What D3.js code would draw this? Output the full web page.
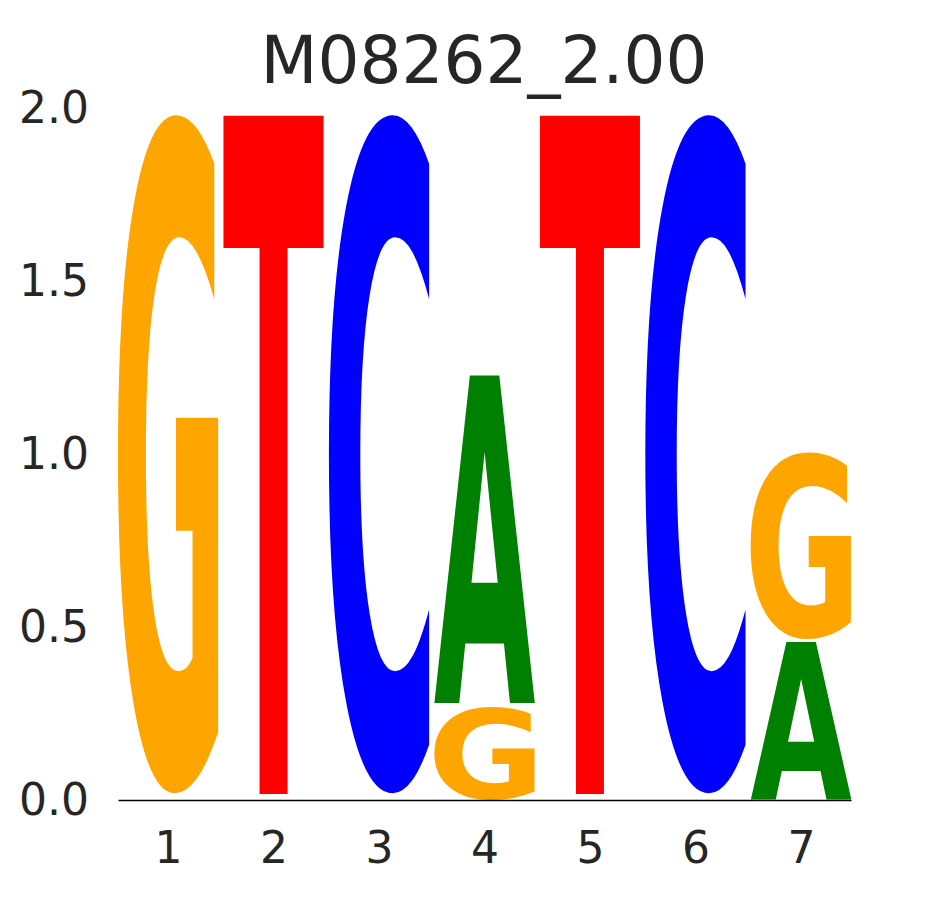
<!DOCTYPE html>
<html>
<head>
<meta charset="utf-8">
<script src="https://cdn.jsdelivr.net/npm/d3@7"></script>
<style>
  body { margin: 0; background: #fff; }
  svg text { font-family: "DejaVu Sans", sans-serif; }
</style>
</head>
<body>
<svg id="chart" width="945" height="900"></svg>
<script>
// motif data: letters per position, stacked bottom to top
var title = "M08262_2.00";
var positions = [1, 2, 3, 4, 5, 6, 7];
var stackLetters = [
  ["A", "C", "T", "G"],
  ["A", "C", "G", "T"],
  ["A", "G", "T", "C"],
  ["G", "C", "T", "A"],
  ["A", "C", "G", "T"],
  ["A", "G", "T", "C"],
  ["A", "C", "T", "G"]
];
var stackHeights = [
  [0.006, 0.005, 0.006, 1.963],
  [0.006, 0.005, 0.006, 1.963],
  [0.006, 0.005, 0.006, 1.963],
  [0.269, 0.005, 0.006, 0.948],
  [0.006, 0.005, 0.006, 1.963],
  [0.006, 0.005, 0.006, 1.963],
  [0.455, 0.004, 0.004, 0.537]
];
var yTicks = [0, 0.5, 1.0, 1.5, 2.0];
var colors = { A: "#008000", C: "#0000ff", G: "#ffa500", T: "#ff0000" };

var svg = d3.select("#chart");
var plotLeft = 118, plotRight = 851, plotTop = 108, plotBottom = 800;
var letterWidth = 0.95;

var x = d3.scaleLinear().domain([1 - letterWidth / 2, 7 + letterWidth / 2]).range([plotLeft, plotRight]);
var y = d3.scaleLinear().domain([0, 2]).range([plotBottom, plotTop]);

// glyph ink bounds: draw each letter on a canvas and scan the pixels
var FS = 400, CW = 600, CH = 600, OX = 100, OY = 500;
var cnv = document.createElement("canvas");
cnv.width = CW; cnv.height = CH;
var ctx = cnv.getContext("2d");
var ink = {};
["A", "C", "G", "T"].forEach(function(c) {
  ctx.clearRect(0, 0, CW, CH);
  ctx.font = "bold " + FS + "px 'DejaVu Sans'";
  ctx.fillStyle = "#000";
  ctx.fillText(c, OX, OY);
  var px = ctx.getImageData(0, 0, CW, CH).data;
  var x0 = CW, x1 = -1, y0 = CH, y1 = -1;
  for (var yy = 0; yy < CH; yy++) {
    for (var xx = 0; xx < CW; xx++) {
      if (px[(yy * CW + xx) * 4 + 3] > 127) {
        if (xx < x0) x0 = xx;
        if (xx > x1) x1 = xx;
        if (yy < y0) y0 = yy;
        if (yy > y1) y1 = yy;
      }
    }
  }
  ink[c] = { l: OX - x0, r: x1 + 1 - OX, a: OY - y0, d: y1 + 1 - OY };
});

var glyphs = [];
positions.forEach(function(p, i) {
  var base = 0;
  stackLetters[i].forEach(function(c, j) {
    var h = stackHeights[i][j];
    if (h > 0.012) glyphs.push({ pos: p, c: c, y0: base, y1: base + h });
    base += h;
  });
});

var g = svg.append("g");
g.selectAll("text.glyph")
  .data(glyphs)
  .enter()
  .append("text")
  .attr("class", "glyph")
  .style("font-family", "'DejaVu Sans'")
  .style("font-weight", "bold")
  .style("font-size", FS + "px")
  .attr("fill", function(d) { return colors[d.c]; })
  .attr("transform", function(d) {
    var b = ink[d.c];
    var x0 = x(d.pos - letterWidth / 2), x1 = x(d.pos + letterWidth / 2);
    var yt = y(d.y1), yb = y(d.y0);
    var sx = (x1 - x0) / (b.l + b.r), sy = (yb - yt) / (b.a + b.d);
    return "translate(" + x0 + "," + yt + ") scale(" + sx + "," + sy + ") translate(" + b.l + "," + b.a + ")";
  })
  .text(function(d) { return d.c; });

// x axis
var xAxis = svg.append("g")
  .attr("transform", "translate(0," + plotBottom + ")")
  .call(d3.axisBottom(x).tickValues(positions).tickSize(0).tickSizeOuter(0).tickPadding(32).tickFormat(d3.format("d")));
xAxis.select(".domain").attr("stroke", "#000").attr("stroke-width", 1.3);
xAxis.selectAll("text")
  .attr("fill", "#262626")
  .style("font-size", "44px")
  .style("font-family", "'DejaVu Sans'");

// y axis
var yAxis = svg.append("g")
  .attr("transform", "translate(" + plotLeft + ",0)")
  .call(d3.axisLeft(y).tickValues(yTicks).tickSize(0).tickPadding(29).tickFormat(d3.format(".1f")));
yAxis.select(".domain").remove();
yAxis.selectAll("text")
  .attr("fill", "#262626")
  .attr("dy", "0.34em")
  .style("font-size", "44px")
  .style("font-family", "'DejaVu Sans'");

svg.append("text")
  .attr("x", 484)
  .attr("y", 83)
  .attr("text-anchor", "middle")
  .attr("fill", "#262626")
  .style("font-size", "66px")
  .text(title);
</script>
</body>
</html>
